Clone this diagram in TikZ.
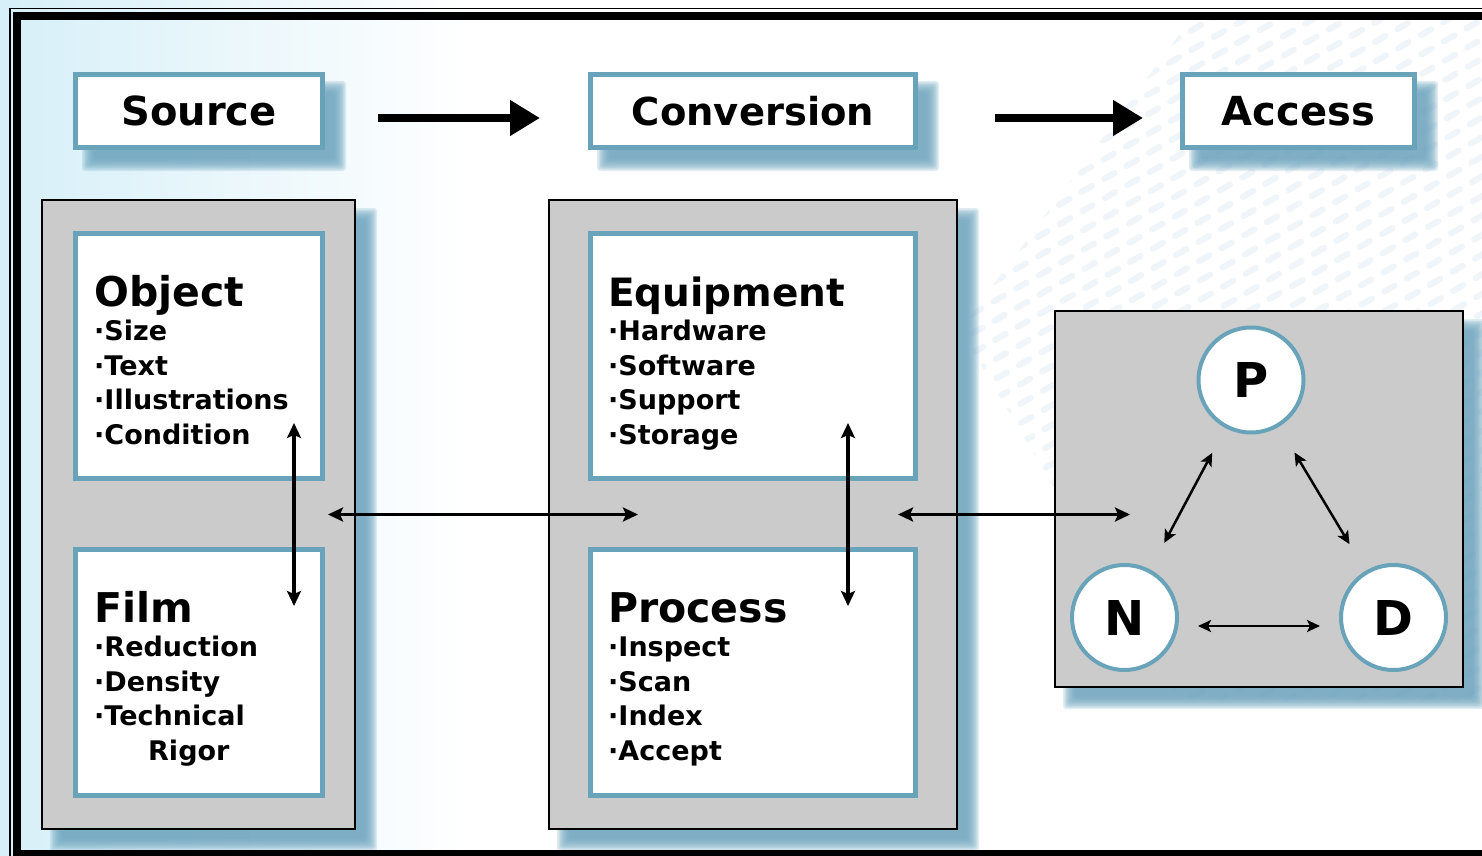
\documentclass[tikz,border=0pt]{standalone}
\usepackage{fontspec}
\setmainfont{DejaVu Sans}
\usetikzlibrary{arrows.meta,calc}
\pgfdeclarelayer{back}
\pgfdeclarelayer{shad}
\pgfsetlayers{back,shad,main}

\definecolor{frameblue}{RGB}{104,163,186}
\definecolor{panelgray}{RGB}{203,203,203}
\definecolor{skyblue}{RGB}{214,239,248}
\definecolor{shadowblue}{RGB}{112,166,192}
\definecolor{texture}{RGB}{240,245,250}

% soft drop shadow behind a named node
\newcommand\castshadow[1]{%
  \foreach \r in {6,4.5,3,1.5,0,-1.5,-3,-4.5,-6}{%
    \fill[shadowblue, opacity=0.21, rounded corners=3pt]
      ([xshift={(15-(\r))*1pt}, yshift={(-15+(\r))*1pt}]#1.north west)
      rectangle
      ([xshift={(15+(\r))*1pt}, yshift={(-15-(\r))*1pt}]#1.south east);
  }%
}

\tikzset{
  titlebox/.style={draw=frameblue, line width=5pt, fill=white,
    minimum height=73pt, inner sep=0pt,
    font=\bfseries\fontsize{40}{48}\selectfont},
  panel/.style={draw=black, line width=2pt, fill=panelgray, inner sep=0pt},
  card/.style={draw=frameblue, line width=5pt, fill=white, inner sep=0pt},
  head/.style={anchor=base west, inner sep=0pt,
    font=\bfseries\fontsize{41}{48}\selectfont},
  item/.style={anchor=base west, inner sep=0pt,
    font=\bfseries\fontsize{27}{32}\selectfont},
  hub/.style={circle, draw=frameblue, line width=4pt, fill=white,
    minimum size=105pt, inner sep=0pt,
    font=\bfseries\fontsize{48}{48}\selectfont},
  flow/.style={line width=8pt, -{Triangle[length=30pt,width=34pt]}},
  link/.style={line width=3.5pt,
    {Stealth[length=15pt,width=14pt,inset=3pt]}-{Stealth[length=15pt,width=14pt,inset=3pt]}},
  tri/.style={line width=2.5pt,
    {Stealth[length=13pt,width=12pt,inset=3pt]}-{Stealth[length=13pt,width=12pt,inset=3pt]}},
}

\begin{document}
\begin{tikzpicture}[x=1pt, y=-1pt]
\useasboundingbox (0,0) rectangle (1482,856);

% background wash and faint texture
\begin{pgfonlayer}{back}
  \fill[white] (0,0) rectangle (1482,856);
  \shade[left color=skyblue, right color=white] (0,0) rectangle (470,856);
  \begin{scope}
    \clip (960,330) -- (1190,20) -- (1482,20) -- (1482,700) -- (1180,700) -- cycle;
    \foreach \j in {-40,...,40}{
      \draw[texture, line width=6pt, line cap=round,
            dash pattern=on 12pt off 14pt, dash phase={\j*9pt}]
        ({1200+\j*8.5-900},{300+\j*14.7+520}) -- ++(1800,-1040);
    }
  \end{scope}
\end{pgfonlayer}

% double frame
\draw[line width=1.5pt] (10,8.5) rectangle (1500,880);
\draw[line width=7.5pt] (17,16) rectangle (1495,853.5);

% stage headings
\node[titlebox, minimum width=247pt] (src)  at (199,111)    {Source};
\node[titlebox, minimum width=325pt] (conv) at (753,111)    {\fontsize{38.5}{48}\selectfont Conversion};
\node[titlebox, minimum width=232pt] (acc)  at (1298.5,111) {Access};

% grey panels
\node[panel, minimum width=313pt, minimum height=629pt] (lp) at (198.5,514.5) {};
\node[panel, minimum width=408pt, minimum height=629pt] (mp) at (753,514.5) {};
\node[panel, minimum width=408pt, minimum height=376pt] (rp) at (1259,499) {};

% white cards
\node[card, minimum width=247pt, minimum height=245pt] (obj)   at (199,356)   {};
\node[card, minimum width=247pt, minimum height=246pt] (film)  at (199,672.5) {};
\node[card, minimum width=325pt, minimum height=245pt] (equip) at (753,356)   {};
\node[card, minimum width=325pt, minimum height=246pt] (proc)  at (753,672.5) {};

% card texts
\node[head] (objH) at (94,306) {Object};
\foreach \t [count=\i] in {Size,Text,Illustrations,Condition}
  \node[item] (obj\i) at (94,{306+34.5*\i}) {·\t};

\node[head] (filmH) at (94,622) {Film};
\foreach \t [count=\i] in {Reduction,Density,Technical}
  \node[item] (film\i) at (94,{622+34.5*\i}) {·\t};
\node[item] (film4) at (148,760) {Rigor};

\node[head] (equipH) at (608,306) {\fontsize{39}{48}\selectfont Equipment};
\foreach \t [count=\i] in {Hardware,Software,Support,Storage}
  \node[item] (equip\i) at (608,{306+34.5*\i}) {·\t};

\node[head] (procH) at (608,622) {Process};
\foreach \t [count=\i] in {Inspect,Scan,Index,Accept}
  \node[item] (proc\i) at (608,{622+34.5*\i}) {·\t};

% P-N-D triangle
\node[hub] (P) at (1251,380)    {P};
\node[hub] (N) at (1124.5,617.5) {N};
\node[hub] (D) at (1393.5,617.5) {D};

\draw[tri, shorten <=28pt, shorten >=30pt] (P) -- (N);
\draw[tri, shorten <=30pt, shorten >=31pt] (P) -- (D);
\draw[tri, shorten <=19pt, shorten >=19pt] ([yshift=-8.5pt]N.east) -- ([yshift=-8.5pt]D.west);

% flow between stages
\draw[flow, shorten <=53pt, shorten >=48pt] ([yshift=-7pt]src.east) -- ([yshift=-7pt]conv.west);
\draw[flow, shorten <=77pt, shorten >=37pt] ([yshift=-7pt]conv.east) -- ([yshift=-7pt]acc.west);

% links inside and between panels
\draw[link] ([xshift=-31pt,yshift=58pt]obj.south east) -- ([xshift=-31pt,yshift=-59pt]film.north east);
\draw[link] ([xshift=-70pt,yshift=58pt]equip.south east) -- ([xshift=-70pt,yshift=-59pt]proc.north east);
\draw[link] ([xshift=-28pt]lp.east) -- ([xshift=90pt]mp.west);
\draw[link] ([xshift=-60pt]mp.east) -- ($(rp.west |- mp.east)+(76,0)$);

% shadows
\begin{pgfonlayer}{shad}
  \castshadow{src}
  \castshadow{conv}
  \castshadow{acc}
  \castshadow{lp}
  \castshadow{mp}
  \castshadow{rp}
\end{pgfonlayer}
\end{tikzpicture}
\end{document}
